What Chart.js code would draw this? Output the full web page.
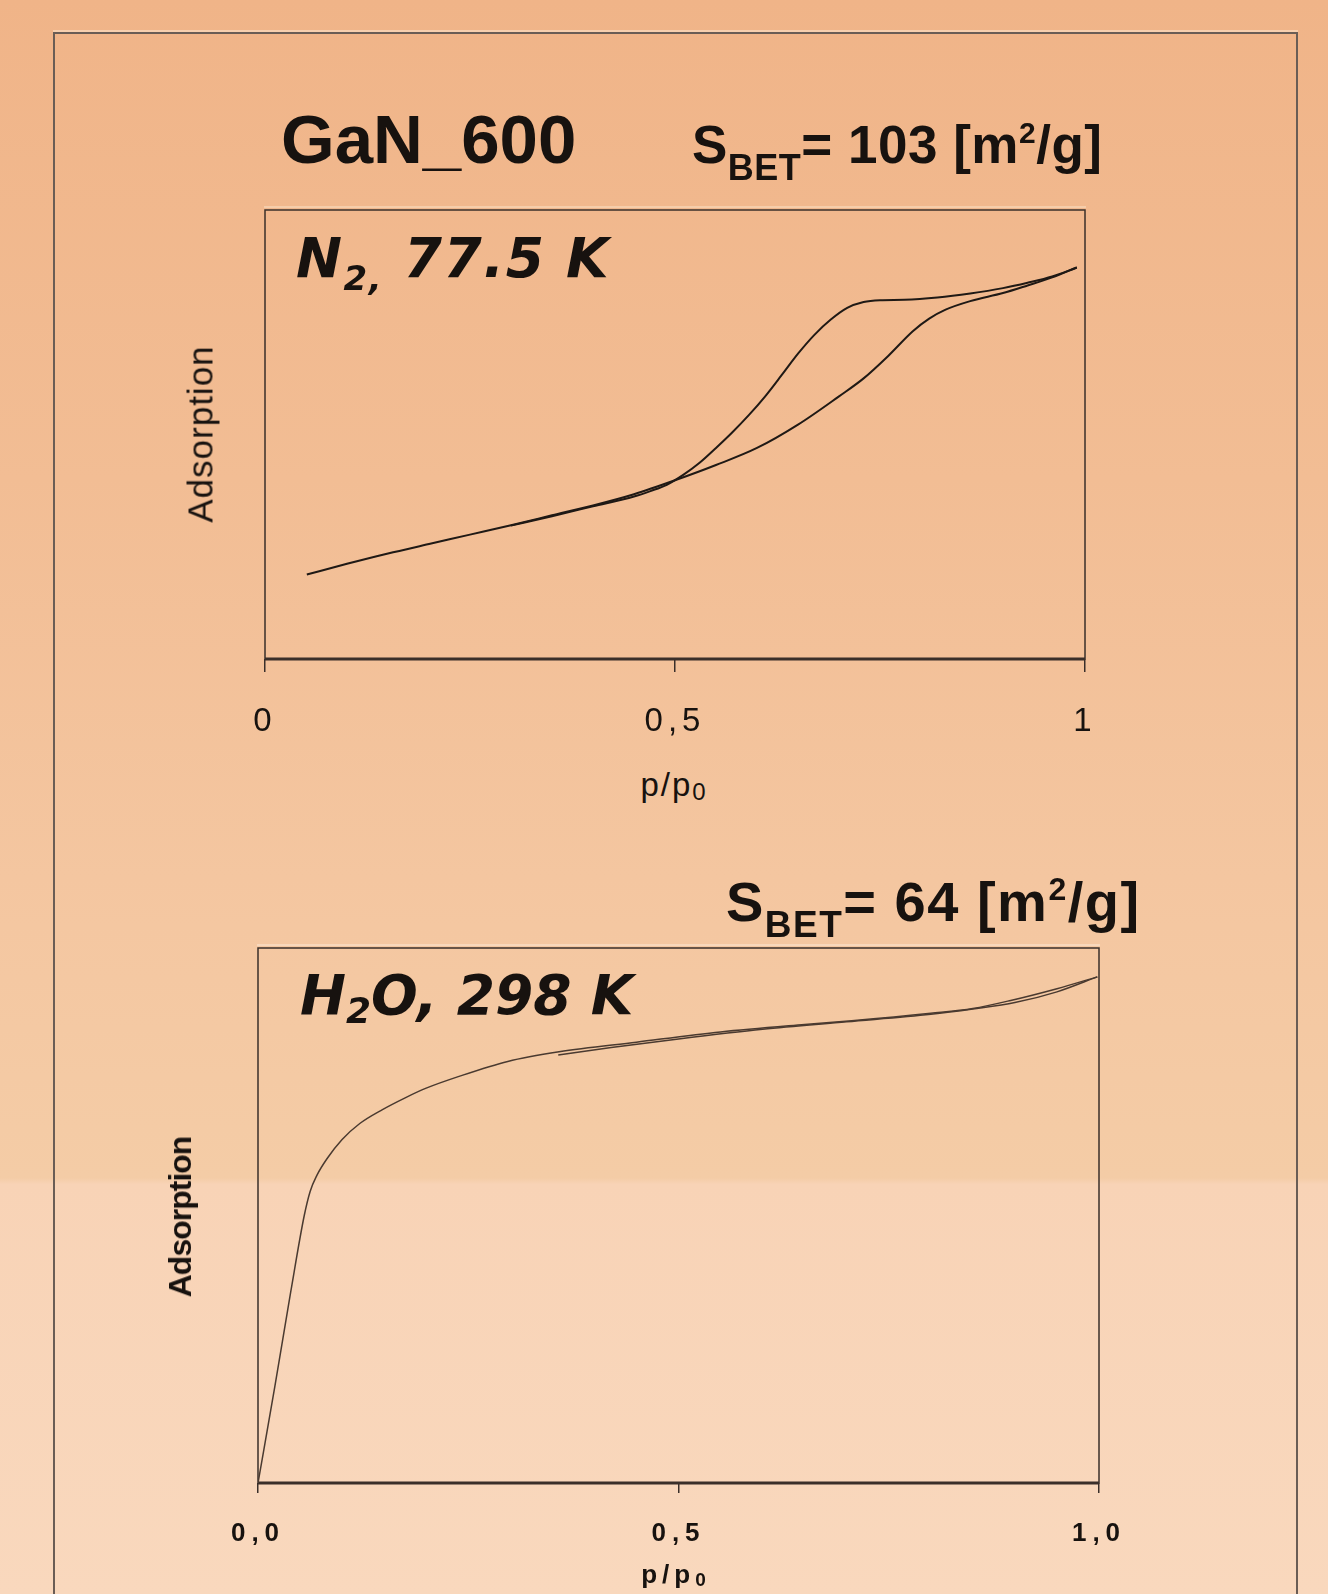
<!DOCTYPE html>
<html>
<head>
<meta charset="utf-8">
<script src="https://cdn.jsdelivr.net/npm/chart.js@4.4.1/dist/chart.umd.min.js"></script>
<style>
html, body { margin: 0; padding: 0; }
body {
    width: 1328px; height: 1594px; position: relative; overflow: hidden;
    background: linear-gradient(to bottom, #F0B488 0%, #F2BD94 30%, #F4C6A0 55%, #F4CCA6 73.9%, #F8D3B6 74.3%, #F9D8BD 100%);
    font-family: "Liberation Sans", Arial, sans-serif; color: #17120f;
}
.frame {
    position: absolute; left: 53px; top: 32px; width: 1241px; height: 1600px;
    border: 2px solid #6a5d55; border-bottom: none; box-shadow: 0 -2px 0 #f7cfae;
}
canvas { position: absolute; left: 0; }
.t { position: absolute; white-space: nowrap; line-height: 1; }
.head { font-weight: bold; }
.tag { font-family: "DejaVu Sans", Verdana, sans-serif; font-weight: bold; font-style: italic; font-size: 55px; }
.ylab { transform: translate(-50%, -50%) rotate(-90deg); }
</style>
</head>
<body>
<div class="frame"></div>

<canvas id="n2Chart" width="1328" height="760" style="top:0"></canvas>
<canvas id="h2oChart" width="1328" height="774" style="top:820px"></canvas>

<div class="t head" style="left:281px; top:105px; font-size:69px;">GaN_600</div>
<div class="t head" style="left:692px; top:118px; font-size:53px; letter-spacing:0.5px;">S<span style="font-size:36px; vertical-align:-17px;">BET</span>= 103 [m<span style="font-size:30px; vertical-align:20px;">2</span>/g]</div>
<div class="t head" style="left:726px; top:873px; font-size:56px; letter-spacing:1.5px;">S<span style="font-size:37px; vertical-align:-16px;">BET</span>= 64 [m<span style="font-size:32px; vertical-align:21px;">2</span>/g]</div>

<div class="t tag" style="left:296px; top:231px; letter-spacing:1.5px;">N<span style="font-size:34px; vertical-align:-13px;">2,</span> 77.5 K</div>
<div class="t tag" style="left:300px; top:968px;">H<span style="font-size:36px; vertical-align:-9px;">2</span>O, 298 K</div>

<div class="t ylab" style="left:200px; top:434px; font-size:35px; letter-spacing:1px;">Adsorption</div>
<div class="t ylab" style="left:180px; top:1217px; font-size:32px; font-weight:bold; letter-spacing:-1px;">Adsorption</div>

<div class="t" style="left:674px; top:768px; font-size:33px; letter-spacing:2px; transform:translateX(-50%);">p/p<span style="font-size:24px; vertical-align:-4px;">0</span></div>
<div class="t" style="left:676px; top:1561px; font-size:26px; font-weight:bold; letter-spacing:5px; transform:translateX(-50%);">p/p<span style="font-size:19px; vertical-align:-3px;">0</span></div>

<script>
// tick labels (comma decimals as in the original)
const n2TickValues = [0, 0.5, 1];
const n2TickLabels = ['0', '0,5', '1'];
const h2oTickValues = [0, 0.5, 1];
const h2oTickLabels = ['0,0', '0,5', '1,0'];

// N2 77.5 K isotherm, p/p0 vs relative adsorption
const n2AdsX = [0.051, 0.10, 0.15, 0.20, 0.25, 0.30, 0.35, 0.40, 0.45, 0.50, 0.55, 0.60, 0.65, 0.70, 0.73, 0.76, 0.79, 0.81, 0.83, 0.86, 0.90, 0.93, 0.96, 0.99];
const n2AdsY = [0.188, 0.212, 0.235, 0.256, 0.277, 0.298, 0.320, 0.342, 0.367, 0.398, 0.432, 0.470, 0.522, 0.585, 0.625, 0.675, 0.730, 0.758, 0.778, 0.797, 0.815, 0.832, 0.850, 0.872];
const n2DesX = [0.30, 0.35, 0.40, 0.45, 0.47, 0.49, 0.51, 0.53, 0.55, 0.57, 0.59, 0.61, 0.63, 0.65, 0.67, 0.69, 0.71, 0.73, 0.75, 0.78, 0.82, 0.86, 0.90, 0.93, 0.96, 0.99];
const n2DesY = [0.297, 0.318, 0.340, 0.362, 0.374, 0.388, 0.410, 0.437, 0.470, 0.505, 0.543, 0.585, 0.632, 0.680, 0.722, 0.756, 0.782, 0.795, 0.799, 0.800, 0.805, 0.814, 0.826, 0.838, 0.852, 0.872];

// H2O 298 K isotherm
const h2oAdsX = [0.000, 0.020, 0.039, 0.055, 0.062, 0.070, 0.082, 0.100, 0.121, 0.148, 0.175, 0.200, 0.239, 0.297, 0.358, 0.450, 0.550, 0.650, 0.706, 0.800, 0.850, 0.895, 0.950, 0.998];
const h2oAdsY = [0.000, 0.180, 0.358, 0.500, 0.545, 0.575, 0.606, 0.642, 0.672, 0.698, 0.720, 0.738, 0.760, 0.788, 0.806, 0.824, 0.843, 0.857, 0.864, 0.878, 0.887, 0.902, 0.924, 0.946];
const h2oDesX = [0.357, 0.420, 0.500, 0.600, 0.700, 0.800, 0.850, 0.900, 0.950, 0.998];
const h2oDesY = [0.800, 0.814, 0.830, 0.848, 0.862, 0.876, 0.886, 0.898, 0.918, 0.946];

const toXY = (xs, ys) => xs.map((x, i) => ({ x: x, y: ys[i] }));

// box around the plot area, heavier bottom axis
const framePlugin = {
    id: 'frame',
    beforeDatasetsDraw(chart, args, opts) {
        const ctx = chart.ctx, a = chart.chartArea;
        ctx.save();
        ctx.strokeStyle = opts.light;
        ctx.lineWidth = 2;
        ctx.beginPath(); ctx.moveTo(a.left - 1, a.top - 3); ctx.lineTo(a.right + 1, a.top - 3); ctx.stroke();
        ctx.strokeStyle = opts.color;
        ctx.lineWidth = opts.width;
        ctx.strokeRect(a.left, a.top, a.right - a.left, a.bottom - a.top);
        ctx.lineWidth = opts.axisWidth;
        ctx.beginPath(); ctx.moveTo(a.left, a.bottom); ctx.lineTo(a.right, a.bottom); ctx.stroke();
        ctx.restore();
    }
};

// wide letter spacing on the tick labels
const spacingPlugin = {
    id: 'spacing',
    beforeDraw(chart, args, opts) { chart.ctx.letterSpacing = opts.px + 'px'; },
    beforeDatasetsDraw(chart) { chart.ctx.letterSpacing = '0px'; }
};

function isotherm(canvasId, sets, cfg) {
    return new Chart(document.getElementById(canvasId), {
        type: 'scatter',
        data: {
            datasets: sets.map(s => ({
                label: s.label,
                data: s.data,
                showLine: true,
                borderColor: cfg.lineColor,
                borderWidth: cfg.lineWidth,
                pointRadius: 0,
                cubicInterpolationMode: 'monotone'
            }))
        },
        options: {
            responsive: false,
            animation: false,
            layout: { padding: cfg.padding },
            plugins: {
                legend: { display: false },
                tooltip: { enabled: false },
                frame: { color: '#3a2f2a', light: cfg.light, width: 1.5, axisWidth: 3 },
                spacing: { px: cfg.spacing }
            },
            scales: {
                x: {
                    type: 'linear', min: 0, max: 1,
                    afterBuildTicks: s => { s.ticks = cfg.tickValues.map(v => ({ value: v })); },
                    afterFit: s => { s.height = cfg.axisHeight; },
                    grid: { drawOnChartArea: false, drawTicks: true, tickLength: cfg.tickLength, color: '#3a2f2a', lineWidth: 1.5 },
                    border: { display: false },
                    ticks: {
                        autoSkip: false, maxRotation: 0,
                        callback: (v, i) => cfg.tickLabels[i],
                        color: '#17120f',
                        font: cfg.tickFont,
                        padding: cfg.tickPadding
                    }
                },
                y: { display: false, min: 0, max: 1 }
            }
        },
        plugins: [framePlugin, spacingPlugin]
    });
}

isotherm('n2Chart', [
    { label: 'N2 adsorption', data: toXY(n2AdsX, n2AdsY) },
    { label: 'N2 desorption', data: toXY(n2DesX, n2DesY) }
], {
    lineColor: '#1f1915', lineWidth: 2,
    padding: { left: 265, right: 243, top: 210, bottom: 0 },
    axisHeight: 101, tickLength: 13, tickPadding: 30,
    tickValues: n2TickValues, tickLabels: n2TickLabels,
    tickFont: { family: '"Liberation Sans", Arial, sans-serif', size: 33 },
    spacing: 5, light: '#f6cdaa'
});

isotherm('h2oChart', [
    { label: 'H2O adsorption', data: toXY(h2oAdsX, h2oAdsY) },
    { label: 'H2O desorption', data: toXY(h2oDesX, h2oDesY) }
], {
    lineColor: '#4a3a30', lineWidth: 1.5,
    padding: { left: 258, right: 229, top: 128, bottom: 0 },
    axisHeight: 111, tickLength: 10, tickPadding: 25,
    tickValues: h2oTickValues, tickLabels: h2oTickLabels,
    tickFont: { family: '"Liberation Sans", Arial, sans-serif', size: 26, weight: 'bold' },
    spacing: 6, light: '#f8d8bc'
});
</script>
</body>
</html>
